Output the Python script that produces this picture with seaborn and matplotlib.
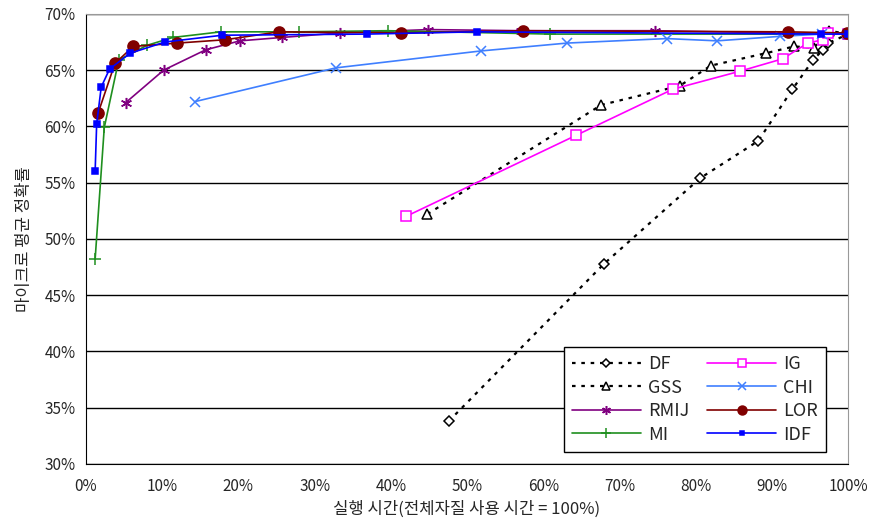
import numpy as np
import pandas as pd
import matplotlib
matplotlib.use("Agg")
import matplotlib.pyplot as plt
import seaborn as sns

sns.set_style("white")
plt.rcParams["font.family"] = ["Noto Sans CJK KR", "DejaVu Sans"]

# run time (% of full feature use) and micro-averaged accuracy (%)
df_x = [47.6, 68.0, 80.6, 88.2, 92.7, 95.4, 96.7, 97.4, 100]
df_y = [33.8, 47.8, 55.4, 58.7, 63.3, 65.9, 66.8, 67.4, 68.2]
gss_x = [44.8, 67.6, 77.9, 82.0, 89.2, 92.9, 95.5, 97.5, 100]
gss_y = [52.2, 61.9, 63.6, 65.4, 66.5, 67.1, 67.0, 68.5, 68.2]
rmij_x = [5.2, 10.2, 15.7, 20.2, 25.7, 33.3, 44.9, 57.1, 74.7, 100]
rmij_y = [62.1, 65.0, 66.8, 67.6, 67.9, 68.3, 68.6, 68.5, 68.5, 68.2]
mi_x = [1.2, 2.4, 4.3, 8.0, 11.4, 17.7, 27.9, 39.6, 60.9, 100]
mi_y = [48.2, 59.9, 65.9, 67.2, 67.9, 68.4, 68.4, 68.5, 68.2, 68.2]
ig_x = [42.0, 64.3, 77.0, 85.8, 91.4, 94.7, 96.7, 97.4, 100]
ig_y = [52.0, 59.2, 63.3, 64.9, 66.0, 67.4, 67.7, 68.3, 68.2]
chi_x = [14.3, 32.8, 51.8, 63.1, 76.2, 82.8, 91.1, 96.6, 100]
chi_y = [62.2, 65.2, 66.7, 67.4, 67.8, 67.6, 68.0, 68.2, 68.2]
lor_x = [1.6, 3.8, 6.2, 12.0, 18.3, 25.3, 41.3, 57.3, 92.1, 99.8]
lor_y = [61.2, 65.6, 67.1, 67.4, 67.7, 68.4, 68.3, 68.5, 68.4, 68.3]
idf_x = [1.2, 1.4, 2.0, 3.1, 5.8, 10.4, 17.9, 36.9, 51.3, 96.5, 100]
idf_y = [56.0, 60.2, 63.5, 65.1, 66.5, 67.5, 68.1, 68.2, 68.4, 68.2, 68.2]

dotted = (0, (1.6, 2.6))
series = [
    ("DF", df_x, df_y, "black", dotted, "D", 5, "white"),
    ("GSS", gss_x, gss_y, "black", dotted, "^", 7.5, "white"),
    ("RMIJ", rmij_x, rmij_y, "#800080", "-", (6, 2, 0), 8, "#800080"),
    ("MI", mi_x, mi_y, "#1f8f1f", "-", "+", 9, "#1f8f1f"),
    ("IG", ig_x, ig_y, "#ff00ff", "-", "s", 7, "white"),
    ("CHI", chi_x, chi_y, "#3f7fff", "-", "x", 7, "#3f7fff"),
    ("LOR", lor_x, lor_y, "#800000", "-", "o", 8, "#800000"),
    ("IDF", idf_x, idf_y, "#0000ff", "-", "s", 4, "#0000ff"),
]

rows = []
for name, xs, ys, *_ in series:
    for a, b in zip(xs, ys):
        rows.append({"name": name, "x": a, "y": b})
data = pd.DataFrame(rows)

fig = plt.figure(figsize=(8.73, 5.32), dpi=100)
ax = fig.add_axes([0.0985, 0.128, 0.873, 0.846])

for name, xs, ys, col, ls, mk, ms, fc in series:
    sub = data[data["name"] == name]
    sns.lineplot(data=sub, x="x", y="y", ax=ax, color=col, linestyle=ls,
                 marker=mk, markersize=ms, markerfacecolor=fc,
                 markeredgecolor=col, markeredgewidth=1.1,
                 linewidth=1.6 if ls is dotted else 1.2, label=name,
                 sort=False, estimator=None)

ax.set_xlim(0, 100)
ax.set_ylim(30, 70)
ax.set_xticks(np.arange(0, 101, 10))
ax.set_xticklabels([f"{v}%" for v in range(0, 101, 10)])
ax.set_yticks(np.arange(30, 71, 5))
ax.set_yticklabels([f"{v}%" for v in range(30, 71, 5)])
ax.yaxis.grid(True, color="black", linewidth=1.0)
ax.set_axisbelow(True)
ax.tick_params(axis="x", direction="in", length=5, color="black", labelsize=11, pad=10)
ax.tick_params(axis="y", direction="out", length=4, color="black", labelsize=11)
for s in ["left", "bottom"]:
    ax.spines[s].set_color("black")
for s in ["top", "right"]:
    ax.spines[s].set_color("#999999")

ax.set_xlabel("실행 시간(전체자질 사용 시간 = 100%)", fontsize=12)
ax.set_ylabel("마이크로 평균 정확률", fontsize=12, labelpad=8)

leg = ax.legend(loc="lower right", ncol=2, fontsize=13, frameon=True,
                fancybox=False, edgecolor="black", framealpha=1,
                handlelength=3.8, columnspacing=1.0, borderpad=0.45,
                labelspacing=0.3, handletextpad=0.4, borderaxespad=0,
                bbox_to_anchor=(0.971, 0.027), markerscale=0.8)
leg.get_frame().set_linewidth(1.0)

fig.savefig("out.png", dpi=100)
